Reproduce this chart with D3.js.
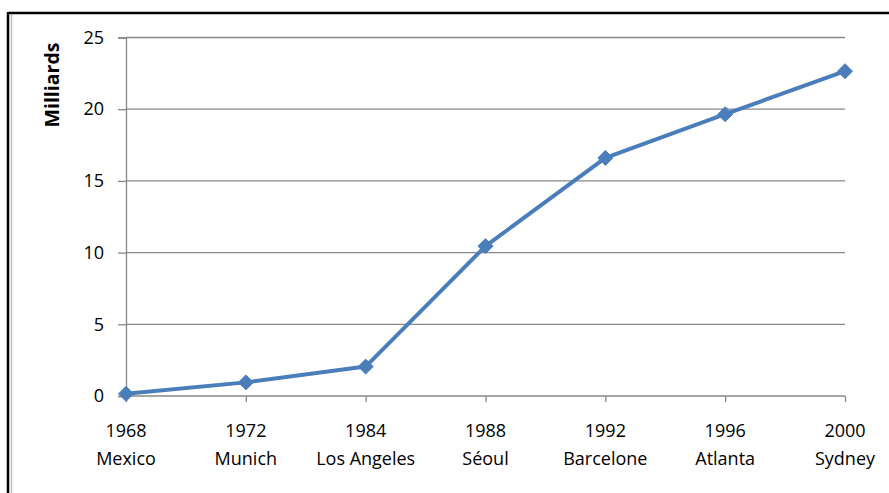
<!DOCTYPE html>
<html>
<head>
<meta charset="utf-8">
<script src="https://cdn.jsdelivr.net/npm/d3@7/dist/d3.min.js"></script>
<style>
  html, body { margin: 0; padding: 0; background: #fff; }
  svg { display: block; }
  text { font-family: "Open Sans", "Liberation Sans", sans-serif; fill: #000; }
</style>
</head>
<body>
<svg id="chart" width="889" height="493"></svg>
<script>
// ---- data ----
const years  = ["1968", "1972", "1984", "1988", "1992", "1996", "2000"];
const cities = ["Mexico", "Munich", "Los Angeles", "Séoul", "Barcelone", "Atlanta", "Sydney"];
const values = [0.15, 0.95, 2.05, 10.45, 16.6, 19.65, 22.65];
const yTicks = [0, 5, 10, 15, 20, 25];
const yTitle = "Milliards";

const svg = d3.select("#chart");
const W = 889, H = 493;

// frame (cut off at right and bottom)
svg.append("line").attr("x1", 8).attr("x2", W).attr("y1", 13).attr("y2", 13)
  .attr("stroke", "#000").attr("stroke-width", 2.5);
svg.append("line").attr("x1", 8).attr("x2", 8).attr("y1", 12).attr("y2", H)
  .attr("stroke", "#000").attr("stroke-width", 2.5);
svg.append("line").attr("x1", 11.5).attr("x2", 11.5).attr("y1", 14.5).attr("y2", H)
  .attr("stroke", "#bdbdbd").attr("stroke-width", 1.5);

const x = d3.scalePoint().domain(years).range([126, 845]);
const y = d3.scaleLinear().domain([0, 25]).range([396, 37.5]);
const gridColor = "#878787";

// gridlines + y axis
const yAxis = d3.axisLeft(y).tickValues(yTicks).tickSize(8).tickPadding(14).tickFormat(d3.format("d"));
const gy = svg.append("g").attr("transform", "translate(126,0)").call(yAxis);
gy.select(".domain").attr("stroke", gridColor).attr("stroke-width", 1.3);
gy.selectAll(".tick line").attr("stroke", gridColor).attr("stroke-width", 1.3);
gy.selectAll(".tick text").attr("font-size", 18).attr("font-family", "Open Sans").attr("fill", "#000");

svg.append("g").selectAll("line").data(yTicks).join("line")
  .attr("x1", 126).attr("x2", 845)
  .attr("y1", d => y(d)).attr("y2", d => y(d))
  .attr("stroke", gridColor).attr("stroke-width", 1.3);

// x axis
const xAxis = d3.axisBottom(x).tickSize(6).tickFormat("");
const gx = svg.append("g").attr("transform", `translate(0,${y(0)})`).call(xAxis);
gx.select(".domain").remove();
gx.selectAll(".tick line").attr("stroke", gridColor).attr("stroke-width", 1.3);

// x labels (two lines)
const lbl = svg.append("g").selectAll("text").data(years).join("text")
  .attr("text-anchor", "middle").attr("font-size", 18)
  .attr("transform", d => `translate(${x(d)},0)`);
lbl.append("tspan").attr("x", 0).attr("y", 437).text(d => d);
lbl.append("tspan").attr("x", 0).attr("y", 464.5).text((d, i) => cities[i]);

// y title
svg.append("text")
  .attr("transform", "translate(59,85) rotate(-90)")
  .attr("text-anchor", "middle")
  .attr("font-size", 19.5).attr("font-weight", "bold")
  .text(yTitle);

// line
const pts = years.map((d, i) => ({ k: d, v: values[i] }));
const blue = "#4a7ebb";
svg.append("path").datum(pts)
  .attr("fill", "none").attr("stroke", blue).attr("stroke-width", 4)
  .attr("stroke-linejoin", "round")
  .attr("d", d3.line().x(d => x(d.k)).y(d => y(d.v)));

// diamond markers
svg.append("g").selectAll("path").data(pts).join("path")
  .attr("transform", d => `translate(${x(d.k)},${y(d.v)})`)
  .attr("d", "M0,-7.5L7.5,0L0,7.5L-7.5,0Z")
  .attr("fill", blue).attr("stroke", blue).attr("stroke-width", 1);
</script>
</body>
</html>
